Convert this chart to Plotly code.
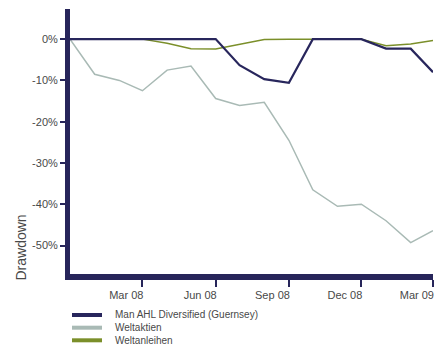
import pandas as pd
import plotly.graph_objects as go

# Monthly drawdown series (percent), Dec 2007 - Mar 2009
months = pd.date_range("2007-12-01", "2009-03-01", freq="MS")
man_ahl = [0, 0, 0, 0, 0, 0, 0, -6.3, -9.7, -10.6, 0, 0, 0, -2.3, -2.3, -8.0]
weltaktien = [0, -8.5, -10.0, -12.5, -7.5, -6.5, -14.4, -16.1, -15.3, -24.5,
              -36.5, -40.5, -40.0, -44.0, -49.3, -46.4]
weltanleihen = [0, 0, 0, 0, -1.0, -2.3, -2.4, -1.2, -0.1, 0, 0, 0, 0, -1.6, -1.2, -0.3]

series_names = ["Man AHL Diversified (Guernsey)", "Weltaktien", "Weltanleihen"]
series_values = [man_ahl, weltaktien, weltanleihen]
colors = ["#28265c", "#a9bab5", "#7b8f2a"]
widths = [2.2, 1.5, 1.5]

y_tickvals = [0, -10, -20, -30, -40, -50]
y_ticktext = ["0%", "-10%", "-20%", "-30%", "-40%", "-50%"]
x_tickvals = ["2008-03-01", "2008-06-01", "2008-09-01", "2008-12-01", "2009-03-01"]
x_ticktext = ["Mar 08", "Jun 08", "Sep 08", "Dec 08", "Mar 09"]

axis_color = "#27255a"
text_color = "#484848"

fig = go.Figure()
# draw the lighter series first so the fund line sits on top
for i in [1, 2, 0]:
    fig.add_trace(go.Scatter(
        x=months, y=series_values[i], mode="lines", name=series_names[i],
        line=dict(color=colors[i], width=widths[i]), showlegend=False,
        cliponaxis=True,
    ))

fig.update_layout(
    width=442, height=346,
    margin=dict(l=70, r=9, t=9, b=72),
    paper_bgcolor="white", plot_bgcolor="white",
    font=dict(family="Liberation Sans, Arial, sans-serif", color=text_color, size=11),
    xaxis=dict(
        range=["2007-12-01", "2009-03-01"],
        tickvals=x_tickvals, ticktext=x_ticktext,
        showgrid=False, zeroline=False,
        showline=True, linecolor=axis_color, linewidth=6,
        ticks="outside", ticklen=7, tickwidth=2, tickcolor=axis_color,
        ticklabelposition="outside left",
        ticklabelshift=5, ticklabelstandoff=6,
        tickfont=dict(size=11, color=text_color),
    ),
    yaxis=dict(
        range=[-56.9, 7.3],
        tickvals=y_tickvals, ticktext=y_ticktext,
        showgrid=False, zeroline=False,
        showline=True, linecolor=axis_color, linewidth=5,
        ticks="outside", ticklen=5, tickwidth=2, tickcolor=axis_color,
        tickfont=dict(size=11, color=text_color),
    ),
)

# axis title placed low along the y axis
fig.add_annotation(
    text="Drawdown", xref="paper", yref="paper", x=-0.1377, y=0.1,
    xanchor="center", yanchor="middle", textangle=-90, showarrow=False,
    font=dict(size=14, color=text_color),
)

# legend below the plot, drawn as line samples with labels
legend_y = [-0.1547, -0.2026, -0.2502]
for name, color, ly in zip(series_names, colors, legend_y):
    fig.add_shape(type="line", xref="paper", yref="paper",
                  x0=2 / 363, x1=32 / 363, y0=ly, y1=ly,
                  line=dict(color=color, width=4))
    fig.add_annotation(text=name, xref="paper", yref="paper",
                       x=43 / 363, y=ly, xanchor="left", yanchor="middle",
                       showarrow=False, font=dict(size=10, color=text_color))

fig.write_html("out.html")
